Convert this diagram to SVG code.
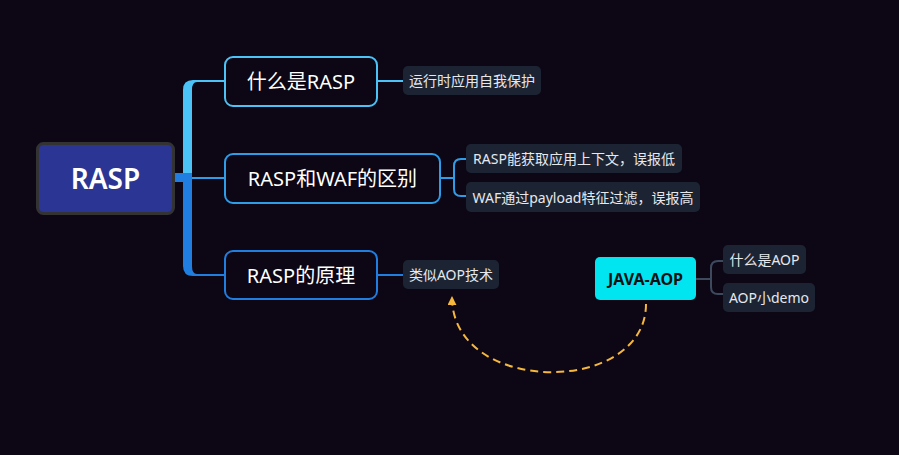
<svg xmlns="http://www.w3.org/2000/svg" width="899" height="455" viewBox="0 0 899 455">
<defs>
<style>
text{font-family:"Noto Sans","Noto Sans CJK SC",sans-serif;dominant-baseline:central;text-anchor:middle}
.topic{fill:#0d0614;stroke-width:2}
.tt{fill:#ffffff;font-size:20px}
.sub{fill:#1c2434}
.st{fill:#e6e8ec;font-size:14px}
.ln{fill:none;stroke-width:2}
</style>
<marker id="arr" viewBox="0 0 10 10" refX="9" refY="5" markerWidth="9" markerHeight="9" markerUnits="userSpaceOnUse" orient="auto">
<path d="M0,0 L10,5 L0,10 Z" fill="#f5b83d"/>
</marker>
</defs>
<rect width="899" height="455" fill="#0d0614"/>
<g id="connectors">
<path d="M183,178 V90 Q183,80 193,80 H225 V82 H197 Q192,82 192,90 V178 Z" fill="#4cc3f7"/>
<path d="M183,178 V266 Q183,276 193,276 H225 V274 H197 Q192,274 192,266 V178 Z" fill="#1f7ee0"/>
<rect x="174" y="173" width="18" height="9" fill="#1f7ee0"/>
<line x1="192" y1="178" x2="225" y2="178" class="ln" stroke="#2d9de8"/>
<line x1="377" y1="81" x2="403" y2="81" class="ln" stroke="#4cc3f7"/>
<path d="M440,178 H454 M466,159 H461 Q454,159 454,166 V189 Q454,196 461,196 H466" class="ln" stroke="#2d9de8"/>
<line x1="377" y1="275" x2="403" y2="275" class="ln" stroke="#1f7ee0"/>
<path d="M696,279 H711 M723,261 H718 Q711,261 711,268 V287 Q711,294 718,294 H723" class="ln" stroke="#3d4a5e"/>
<path d="M646,304 C646,396 452,396 452,297" fill="none" stroke="#f5b83d" stroke-width="2" stroke-dasharray="8,5" marker-end="url(#arr)"/>
</g>
<g id="root">
<rect x="37.5" y="143.5" width="136" height="70" rx="6" fill="#2b3593" stroke="#333" stroke-width="3"/>
<text x="105.5" y="178" fill="#fff" font-size="28" font-weight="600">RASP</text>
</g>
<g id="topic1">
<rect x="225" y="57" width="152" height="49" rx="8" class="topic" stroke="#4cc3f7"/>
<text x="301" y="81" class="tt">什么是RASP</text>
</g>
<g id="topic2">
<rect x="225" y="154" width="215" height="49" rx="8" class="topic" stroke="#2d9de8"/>
<text x="332.5" y="178" class="tt">RASP和WAF的区别</text>
</g>
<g id="topic3">
<rect x="225" y="251" width="152" height="48" rx="8" class="topic" stroke="#1f7ee0"/>
<text x="301" y="275" class="tt">RASP的原理</text>
</g>
<g id="sub1">
<rect x="403" y="66" width="138" height="29" rx="5" class="sub"/>
<text x="472" y="80.5" class="st">运行时应用自我保护</text>
</g>
<g id="sub2">
<rect x="466" y="144" width="216" height="29" rx="5" class="sub"/>
<text x="574" y="158.5" class="st">RASP能获取应用上下文，误报低</text>
</g>
<g id="sub3">
<rect x="466" y="182" width="234" height="30" rx="5" class="sub"/>
<text x="583" y="197" class="st">WAF通过payload特征过滤，误报高</text>
</g>
<g id="sub4">
<rect x="403" y="260" width="96" height="29" rx="5" class="sub"/>
<text x="451" y="274.5" class="st">类似AOP技术</text>
</g>
<g id="javaaop">
<rect x="595" y="257" width="101" height="43" rx="5" fill="#00e5f0"/>
<text x="645.5" y="278.5" fill="#111" font-size="16" font-weight="700">JAVA-AOP</text>
</g>
<g id="aop1">
<rect x="723" y="245" width="83" height="29" rx="5" class="sub"/>
<text x="764.5" y="259.5" class="st">什么是AOP</text>
</g>
<g id="aop2">
<rect x="723" y="283" width="92" height="29" rx="5" class="sub"/>
<text x="769" y="297.5" class="st">AOP小demo</text>
</g>
</svg>
